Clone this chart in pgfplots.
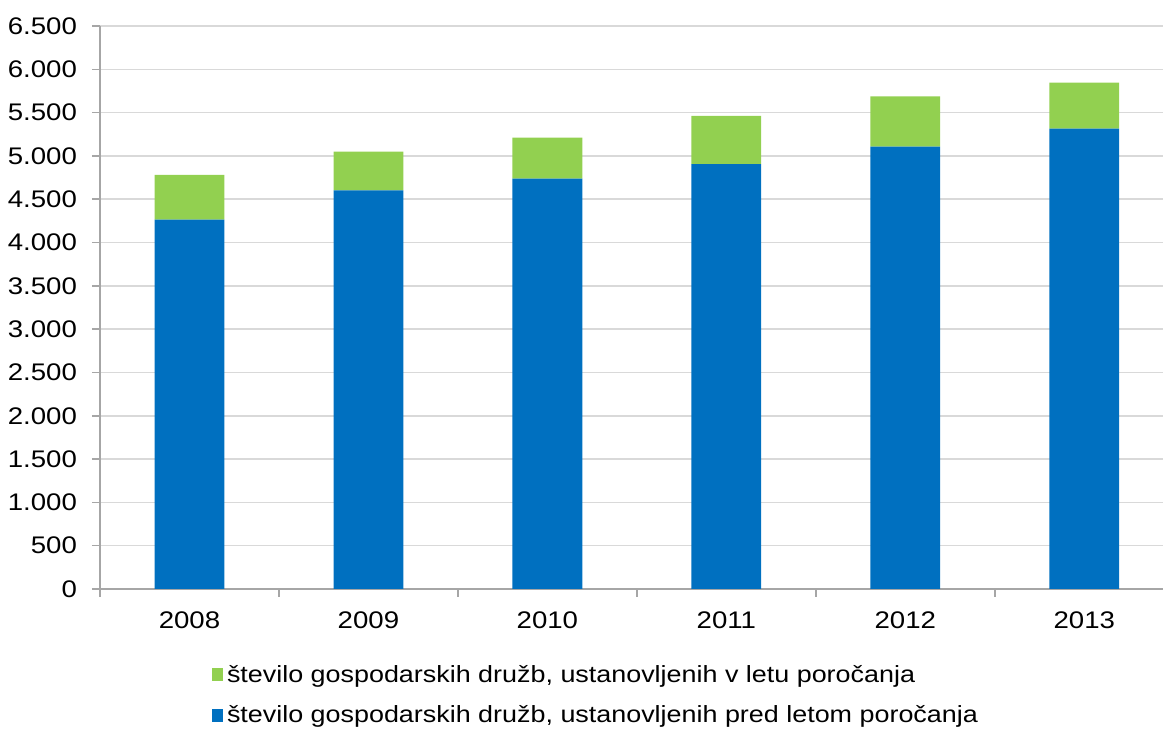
\documentclass[border=0pt]{standalone}
\usepackage{fontspec}
\setmainfont{Liberation Sans}[FakeStretch=1.15]
\usepackage{pgfplots}
\pgfplotsset{compat=1.18}
\definecolor{novo}{HTML}{92D050}
\definecolor{staro}{HTML}{0070C0}
\definecolor{mreza}{HTML}{D9D9D9}
\definecolor{os}{HTML}{A6A6A6}

\begin{document}
\begin{tikzpicture}
  \begin{axis}[
      scale only axis,
      width=531.5pt,
      height=281.5pt,
      ybar stacked,
      bar width=0.39,
      xmin=-0.5, xmax=5.44,
      ymin=0, ymax=6500,
      ytick={0,500,...,6500},
      xtick={0,1,2,3,4,5},
      xticklabels={2008,2009,2010,2011,2012,2013},
      minor xtick={-0.5,0.5,1.5,2.5,3.5,4.5},
      axis x line*=bottom,
      axis y line*=left,
      axis line style={os, line width=0.75pt},
      tick align=outside,
      major tick length=4pt,
      minor tick length=4pt,
      major x tick style={draw=none},
      minor x tick style={os, line width=0.75pt},
      major y tick style={os, line width=0.75pt},
      ymajorgrids,
      grid style={mreza, line width=0.75pt},
      /pgf/number format/.cd, 1000 sep={.}, assume math mode=true,
      /pgfplots/.cd,
      tick label style={font=\fontsize{12}{14}\selectfont},
      yticklabel style={xshift=-4pt},
      xticklabel style={yshift=-4pt},
      reverse legend,
      legend cell align=left,
      legend style={at={(axis description cs:0.105,-0.128)}, anchor=north west,
        draw=none, fill=none, font=\fontsize{11.7}{13}\selectfont,
        row sep=6pt, inner sep=0pt,
        /tikz/every even column/.append style={column sep=1pt}},
      legend image code/.code={\fill[#1] (0pt,-3pt) rectangle (5.5pt,3.5pt);},
    ]
    \addplot+[fill=staro, draw=none] coordinates {
      (0,4264) (1,4603) (2,4738) (3,4904) (4,5107) (5,5316)
    };
    \addlegendentry{število gospodarskih družb, ustanovljenih pred letom poročanja}
    \addplot+[fill=novo, draw=none] coordinates {
      (0,516) (1,447) (2,474) (3,558) (4,579) (5,531)
    };
    \addlegendentry{število gospodarskih družb, ustanovljenih v letu poročanja}
  \end{axis}
  \pgfresetboundingbox
  \useasboundingbox (-50pt,-71pt) rectangle (531.5pt,294.5pt);
\end{tikzpicture}
\end{document}
